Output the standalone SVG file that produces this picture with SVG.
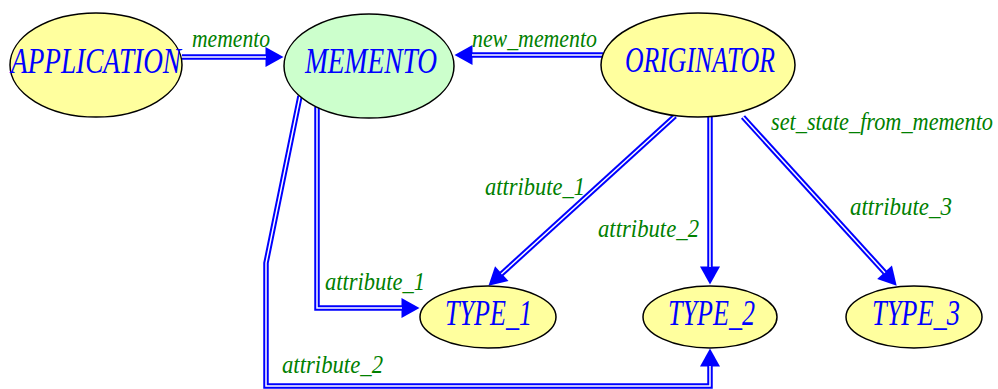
<svg xmlns="http://www.w3.org/2000/svg" width="998" height="389" viewBox="0 0 998 389">
<defs>
<style>
.node{stroke:#000;stroke-width:1.5}
.y{fill:#FFFF9E}
.g{fill:#CCFFCC}
.nl{font-family:"Liberation Serif","Times New Roman",serif;font-style:italic;font-size:35px;fill:#0000FF}
.el{font-family:"Liberation Serif","Times New Roman",serif;font-style:italic;font-size:25px;fill:#008000}
.outer{fill:none;stroke:#0000FF;stroke-width:5.5;stroke-linejoin:miter}
.inner{fill:none;stroke:#FFFFFF;stroke-width:1.5;stroke-linejoin:miter}
</style>
<marker id="ah" markerUnits="userSpaceOnUse" viewBox="0 0 18 20" markerWidth="18" markerHeight="20" refX="0.5" refY="10" orient="auto" overflow="visible">
<path d="M0,0 L18,10 L0,20 z" fill="#0000FF"/>
</marker>
</defs>
<rect width="998" height="389" fill="#FFFFFF"/>
<g id="connectors">
<path class="outer" d="M182,57 H266" marker-end="url(#ah)"/>
<path class="inner" d="M182,57 H266"/>
<path class="outer" d="M603,55 H472" marker-end="url(#ah)"/>
<path class="inner" d="M603,55 H472"/>
<path class="outer" d="M317,107 V308 H402" marker-end="url(#ah)"/>
<path class="inner" d="M317,107 V308 H402"/>
<path class="outer" d="M300,96 L266,263 V386 H710 V366" marker-end="url(#ah)"/>
<path class="inner" d="M300,96 L266,263 V386 H710 V366"/>
<path class="outer" d="M675,116 L501.4,274" marker-end="url(#ah)"/>
<path class="inner" d="M675,116 L501.4,274"/>
<path class="outer" d="M710,117 V267" marker-end="url(#ah)"/>
<path class="inner" d="M710,117 V267"/>
<path class="outer" d="M743,117 L884.9,272.7" marker-end="url(#ah)"/>
<path class="inner" d="M743,117 L884.9,272.7"/>
<text class="el" x="192" y="47" textLength="78" lengthAdjust="spacingAndGlyphs">memento</text>
<text class="el" x="472" y="47" textLength="125" lengthAdjust="spacingAndGlyphs">new_memento</text>
<text class="el" x="771" y="130" textLength="222" lengthAdjust="spacingAndGlyphs">set_state_from_memento</text>
<text class="el" x="485" y="195" textLength="100" lengthAdjust="spacingAndGlyphs">attribute_1</text>
<text class="el" x="598" y="237" textLength="101" lengthAdjust="spacingAndGlyphs">attribute_2</text>
<text class="el" x="850" y="215" textLength="102" lengthAdjust="spacingAndGlyphs">attribute_3</text>
<text class="el" x="325" y="290" textLength="100" lengthAdjust="spacingAndGlyphs">attribute_1</text>
<text class="el" x="282" y="373" textLength="101" lengthAdjust="spacingAndGlyphs">attribute_2</text>
</g>
<g id="APPLICATION">
<ellipse class="node y" cx="96" cy="65" rx="86" ry="52"/>
<text class="nl" x="11" y="73" textLength="170" lengthAdjust="spacingAndGlyphs">APPLICATION</text>
</g>
<g id="MEMENTO">
<ellipse class="node g" cx="369" cy="66" rx="85" ry="52"/>
<text class="nl" x="305" y="73" textLength="132" lengthAdjust="spacingAndGlyphs">MEMENTO</text>
</g>
<g id="ORIGINATOR">
<ellipse class="node y" cx="698" cy="65" rx="97" ry="52"/>
<text class="nl" x="625" y="72" textLength="150" lengthAdjust="spacingAndGlyphs">ORIGINATOR</text>
</g>
<g id="TYPE_1">
<ellipse class="node y" cx="488" cy="317" rx="68" ry="31"/>
<text class="nl" x="445" y="325" textLength="87" lengthAdjust="spacingAndGlyphs">TYPE_1</text>
</g>
<g id="TYPE_2">
<ellipse class="node y" cx="710" cy="317" rx="67" ry="31"/>
<text class="nl" x="668" y="325" textLength="87" lengthAdjust="spacingAndGlyphs">TYPE_2</text>
</g>
<g id="TYPE_3">
<ellipse class="node y" cx="914" cy="317" rx="68" ry="31"/>
<text class="nl" x="872" y="325" textLength="88" lengthAdjust="spacingAndGlyphs">TYPE_3</text>
</g>
</svg>
